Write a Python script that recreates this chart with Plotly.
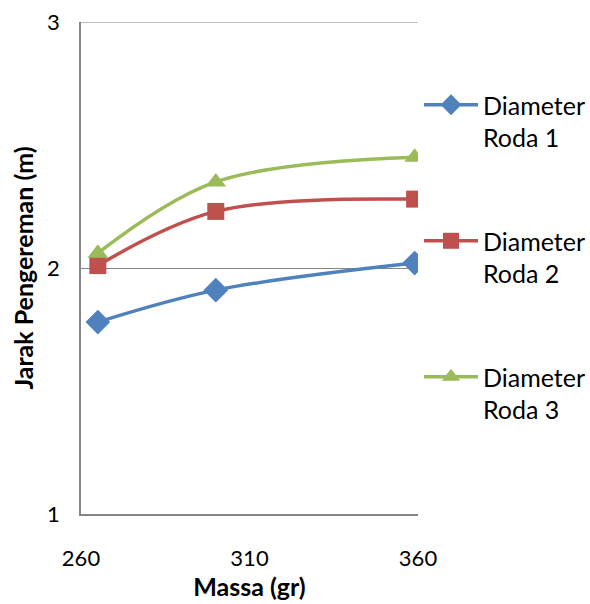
import plotly.graph_objects as go

massa = [265, 300, 359]
roda1 = [1.78, 1.91, 2.02]
roda2 = [2.01, 2.23, 2.28]
roda3 = [2.06, 2.35, 2.45]
names = ["Diameter<br>Roda 1", "Diameter<br>Roda 2", "Diameter<br>Roda 3"]
colors = ["#4F81BD", "#C0504D", "#9BBB59"]
symbols = ["diamond", "square", "triangle-up"]
msizes = [19, 17, 18]
series = [roda1, roda2, roda3]

FONT = "Lato"
GRID = "#868686"
fig = go.Figure()
for i, (name, ys, c, s, ms) in enumerate(zip(names, series, colors, symbols, msizes)):
    fig.add_trace(go.Scatter(
        x=massa, y=ys, name=name, mode="lines+markers", legendgroup=f"g{i}",
        line=dict(color=c, width=3.5, shape="spline", smoothing=1.0),
        marker=dict(symbol=s, size=ms, color=c),
    ))

fig.add_shape(type="line", xref="x domain", yref="y", x0=0, x1=1, y0=3, y1=3,
              line=dict(color=GRID, width=1.2), layer="below")

fig.update_layout(
    width=590, height=604,
    margin=dict(l=81, r=172, t=22, b=90, autoexpand=False),
    plot_bgcolor="white", paper_bgcolor="white",
    font=dict(family=FONT, size=22, color="#000000"),
    showlegend=True,
    legend=dict(x=1.003, y=0.878, xanchor="left", yanchor="top",
                font=dict(size=25), tracegroupgap=68, itemwidth=54,
                valign="top", bgcolor="rgba(0,0,0,0)"),
    xaxis=dict(range=[260, 360], tickvals=[260, 310, 360],
               showgrid=False, showline=True, linecolor=GRID, linewidth=1.5,
               zeroline=False, ticks="", ticklabelstandoff=24, automargin=False,
               title=dict(text="<b>Massa (gr)</b>", font=dict(size=25), standoff=6)),
    yaxis=dict(range=[1, 3], tickvals=[1, 2, 3],
               showgrid=True, gridcolor=GRID, gridwidth=1.2,
               showline=True, linecolor=GRID, linewidth=1.5,
               zeroline=False, ticks="", ticklabelstandoff=15, automargin=False,
               title=dict(text="<b>Jarak Pengereman (m)</b>", font=dict(size=25), standoff=6)),
)
fig.write_html("out.html")
